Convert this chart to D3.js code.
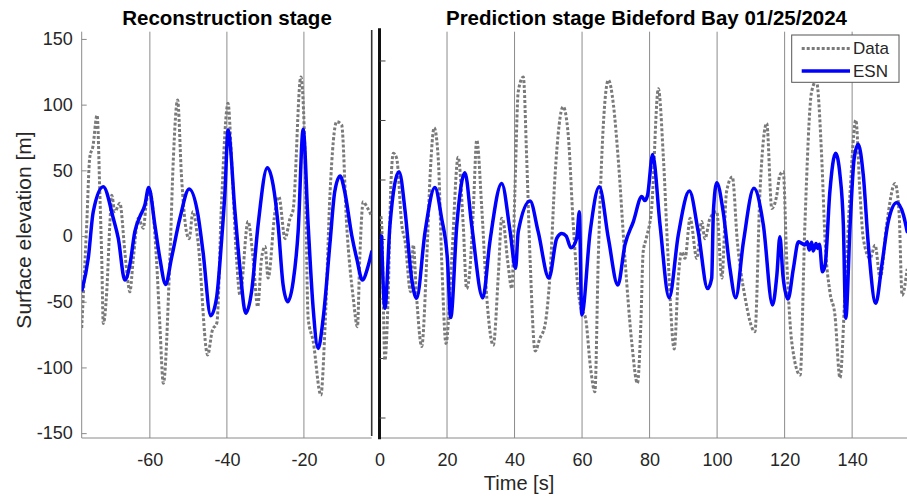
<!DOCTYPE html>
<html>
<head>
<meta charset="utf-8">
<script src="https://cdn.jsdelivr.net/npm/d3@7"></script>
<style>
  html, body { margin: 0; padding: 0; background: #fff; }
  svg { display: block; font-family: "Liberation Sans", Arial, sans-serif; }
</style>
</head>
<body>
<svg id="chart" width="907" height="497"></svg>
<script>
// Reconstruction stage: measured surface elevation [t (s), eta (m)]
const reconData = [
  [-77.7,-70],[-76.4,8.4],[-75.6,60],[-74.8,68],[-73.7,92],[-73.0,33.7],[-72.5,-17],[-72.1,-66.5],
  [-71.2,-42.4],[-70.4,8.4],[-69.9,31],[-69.1,18.5],[-67.8,25],[-66.5,-12],[-65.6,-37],[-65.2,-42.4],
  [-64.3,-17],[-63.0,13.5],[-61.7,6],[-60.9,26],[-60.0,33.7],[-58.3,-17],[-57.4,-68],[-56.5,-112],
  [-54.8,-17],[-53.9,59],[-52.8,103.5],[-51.8,46],[-50.5,3.3],[-49.8,-2],[-48.8,18.5],[-47.5,-4.3],
  [-45.0,-90.5],[-43.8,-72],[-42.6,-66],[-41.4,25],[-39.7,101],[-38.8,59],[-37.5,-17],[-36.6,-45],
  [-34.5,11],[-33.2,-17],[-32.0,-53.8],[-31.0,-17],[-30.1,-8],[-29.3,-32],[-27.5,18.5],[-26.5,30],
  [-24.9,-2],[-23.6,13.5],[-22.8,20],[-20.8,121],[-19.7,59],[-18.9,-62.6],[-17.6,-80],[-15.6,-121],
  [-14.5,-68],[-13.2,33.7],[-11.5,87],[-10.2,84.5],[-8.9,8.4],[-7.2,-47],[-6.1,-69],[-5.5,-17],
  [-4.6,26],[-3.6,22],[-2.4,15]
];

// Reconstruction stage: ESN output
const reconEsn = [
  [-77.6,-41],[-76.0,-17],[-74.7,18.5],[-72.1,37.5],[-69.5,13.5],[-68.2,-1.8],[-66.5,-33.5],[-65.2,-22],
  [-63.9,3.3],[-62.6,14.7],[-61.3,23.6],[-60.3,37],[-58.7,8.4],[-57.4,-17],[-55.9,-36.8],[-54.4,-17],
  [-52.2,13.5],[-49.8,35.8],[-47.5,16],[-46.2,-12],[-44.2,-60.6],[-42.7,-47.4],[-41.4,-4.3],[-40.5,33.7],
  [-39.7,80.7],[-37.9,18.5],[-36.6,-24.6],[-35.1,-58.8],[-33.6,-42.4],[-31.9,8.4],[-29.5,52],[-28.0,38.8],
  [-26.7,8.4],[-25.4,-37.3],[-24.2,-50],[-22.8,-34.8],[-21.5,3.3],[-20.2,81.2],[-18.9,8.4],[-17.6,-55],
  [-16.3,-85.5],[-15.0,-62.6],[-13.2,-4.3],[-12.0,33.7],[-10.6,45.7],[-9.4,33.7],[-7.6,0.8],[-6.3,-17],
  [-4.8,-33.5],[-3.5,-24.6],[-2.4,-12]
];

// Prediction stage: measured surface elevation
const predData = [
  [0.4,15],[0.65,8.4],[1.6,-94.4],[2.6,-42.4],[3.3,33.7],[4.1,63],[5.1,59],[6.6,8.4],[7.6,-4.3],
  [9.2,-42.4],[10.0,-6.8],[11.0,-47],[12.5,-84],[14.0,-17],[15.0,46.4],[16.2,82.4],[17.4,59],[18.4,-17],
  [19.7,-81.7],[21.4,-17],[23.3,60],[24.8,8.4],[25.8,-40],[26.8,-25],[27.8,21],[28.8,73],[30.3,21],
  [31.8,-47.4],[33.7,-83],[35.2,-29.7],[36.2,13.5],[36.6,12],[38.0,-20],[39.2,-40],[40.1,33.7],[41.1,110],
  [42.6,121],[43.6,59],[44.6,-17],[46.1,-87.5],[47.5,-78],[49.0,-68],[50.5,-29.7],[52.0,46.4],[54.4,98.4],
  [55.9,77],[57.4,8.4],[58.9,-42.4],[59.7,-55],[61.0,-62],[62.5,-100],[63.8,-118.5],[64.8,-17],[66.3,84.5],
  [67.8,118.7],[69.3,99.7],[70.7,59],[72.7,-17],[74.7,-80.4],[76.4,-112],[77.4,-68],[78.1,-12],[79.0,-2],
  [80.6,21],[82.6,112],[84.1,59],[85.5,-17],[87.3,-86],[88.5,-32],[89.5,-12],[90.5,-17],[92.0,13.5],
  [94.0,-17],[95.4,11],[96.4,-2],[97.9,13.5],[99.9,18.5],[101.4,-32],[102.8,33.7],[104.5,45],[106.0,-4.3],
  [108.3,-47],[111.2,-72.8],[112.7,33.7],[114.7,85.8],[116.2,21],[117.6,30],[118.6,46.4],[119.6,49],
  [120.6,-17],[122.1,-80.4],[124.6,-105.8],[126.0,8.4],[128.0,110],[129.4,118],[131.0,59],[132.0,-4.3],
  [133.4,-42.4],[134.9,-60],[136.4,-108],[137.9,-42.4],[139.4,33.7],[141.1,88.3],[142.3,33.7],[143.3,-1.8],
  [145.3,-17],[146.8,-7],[148.3,-32],[150.2,8.4],[152.7,40],[153.9,18],[154.8,-45],[156.3,-25]
];

// Prediction stage: ESN forecast
const predEsn = [
  [0.6,0],[1.6,-55],[3.1,8.4],[5.8,49],[7.6,18.5],[9.5,-32],[11.0,-47.4],[13.5,3.3],[16.4,37],[18.4,13.5],
  [20.1,-17],[21.1,-62],[22.9,8.4],[25.3,48.2],[27.3,8.4],[30.6,-47],[32.7,-4.3],[36.2,40],[38.7,3.3],
  [40.3,-24.6],[41.1,3.3],[44.6,26.6],[47.0,3.3],[50.2,-32],[52.5,-1.8],[54.0,2],[55.3,0],[56.7,-9],
  [58.4,-1.8],[59.2,18.5],[59.9,-60],[62.4,3.3],[65.1,37.5],[67.8,-1.8],[70.6,-37.3],[72.7,-6.8],[75.2,11],
  [77.7,30],[78.6,27],[79.4,31],[80.9,62],[83.1,8.4],[85.8,-47],[88.5,0.8],[91.8,34.2],[94.4,3.3],
  [97.2,-40],[98.4,-32],[98.9,18.5],[99.9,40.6],[101.8,18.5],[103.8,-24.6],[105.5,-47],[107.8,-4.3],
  [110.9,36.3],[113.7,8.4],[116.4,-52.5],[117.7,-29.7],[118.6,-0.5],[119.5,-30],[121.0,-48],[122.6,-24.6],
  [124.1,-4.3],[125.1,-5.6],[126.0,-6.8],[126.7,-4.3],[127.3,-10.7],[128.0,-4.8],[128.5,-11.4],[129.3,-5.6],
  [129.8,-9.4],[130.3,-6.3],[131.2,-27.2],[132.0,-22],[133.4,33.7],[135.1,63],[136.4,46.4],[137.4,8.4],
  [138.1,-62.6],[139.4,8.4],[140.6,59],[141.8,69.8],[143.3,46.4],[144.8,-6.8],[147.0,-51.2],[148.8,-22],
  [150.7,11],[153.2,25.4],[155.2,16],[156.3,3.3]
];

// Axis ticks and labels
const yTicks = [-150, -100, -50, 0, 50, 100, 150];
const reconTicks = [-60, -40, -20];
const predTicks = [0, 20, 40, 60, 80, 100, 120, 140];
const titles = ["Reconstruction stage", "Prediction stage Bideford Bay 01/25/2024"];
const seriesNames = ["Data", "ESN"];

const svg = d3.select("#chart");
const plotTop = 31.7, plotBottom = 438;

const xL = d3.scaleLinear().domain([-77.7, -2.4]).range([81.7, 371.7]);
const xR = d3.scaleLinear().domain([0, 156.25]).range([379.5, 907]);
const y = d3.scaleLinear().domain([-153.7, 155.5]).range([plotBottom, plotTop]);
// tick spacing used on the prediction panel's own left axis
const yR = d3.scaleLinear().domain([-166.8, 174.6]).range([plotBottom, plotTop]);

const gridColor = "#8c8c8c";
const axisColor = "#8a8a8a";
const textColor = "#262626";
const dataColor = "#7a7a7a";
const esnColor = "#0000ff";
const fontFamily = "Liberation Sans, Arial, sans-serif";
// plain hyphen for negative tick labels
const tickFmt = d => (d < 0 ? "-" : "") + Math.abs(d);

const defs = svg.append("defs");
defs.append("clipPath").attr("id", "clipL").append("rect")
  .attr("x", xL.range()[0]).attr("y", plotTop).attr("width", xL.range()[1] - xL.range()[0]).attr("height", plotBottom - plotTop);
defs.append("clipPath").attr("id", "clipR").append("rect")
  .attr("x", xR.range()[0]).attr("y", plotTop).attr("width", xR.range()[1] - xR.range()[0]).attr("height", plotBottom - plotTop);

// vertical grid lines
svg.append("g").selectAll("line").data(reconTicks).join("line")
  .attr("x1", d => xL(d)).attr("x2", d => xL(d)).attr("y1", plotTop).attr("y2", plotBottom)
  .attr("stroke", gridColor).attr("stroke-width", 1);
svg.append("g").selectAll("line").data(predTicks.filter(d => d !== 0)).join("line")
  .attr("x1", d => xR(d)).attr("x2", d => xR(d)).attr("y1", plotTop).attr("y2", plotBottom)
  .attr("stroke", gridColor).attr("stroke-width", 1);

// bottom axis lines
[xL, xR].forEach(sc => {
  svg.append("line").attr("x1", sc.range()[0]).attr("x2", sc.range()[1])
    .attr("y1", plotBottom).attr("y2", plotBottom).attr("stroke", axisColor).attr("stroke-width", 1);
});

// left y axis
const yAxis = d3.axisLeft(y).tickValues(yTicks).tickFormat(tickFmt)
  .tickSizeInner(-5).tickSizeOuter(0).tickPadding(9);
const gy = svg.append("g").attr("transform", `translate(${xL.range()[0]},0)`).call(yAxis);
gy.select(".domain").attr("stroke", axisColor).attr("d", `M0,${plotTop}V${plotBottom}`);
gy.selectAll(".tick line").attr("stroke", axisColor);
gy.selectAll("text").attr("font-size", 18).attr("fill", textColor).attr("font-family", fontFamily);

// x tick labels
const xAxisL = d3.axisBottom(xL).tickValues(reconTicks).tickSize(0).tickPadding(15).tickFormat(tickFmt);
const gxL = svg.append("g").attr("transform", `translate(0,${plotBottom})`).call(xAxisL);
const xAxisR = d3.axisBottom(xR).tickValues(predTicks).tickSize(0).tickPadding(15).tickFormat(tickFmt);
const gxR = svg.append("g").attr("transform", `translate(0,${plotBottom})`).call(xAxisR);
[gxL, gxR].forEach(g => {
  g.select(".domain").remove();
  g.selectAll("text").attr("font-size", 18).attr("fill", textColor).attr("font-family", fontFamily);
});

// separators between the two stages
svg.append("line").attr("x1", xL.range()[1]).attr("x2", xL.range()[1]).attr("y1", 30).attr("y2", 436)
  .attr("stroke", "#333").attr("stroke-width", 1.6);
svg.append("line").attr("x1", xR(0)).attr("x2", xR(0)).attr("y1", 28.3).attr("y2", 439.3)
  .attr("stroke", "#111").attr("stroke-width", 3);
svg.append("g").selectAll("line").data(yTicks).join("line")
  .attr("x1", xR(0)).attr("x2", xR(0) + 6).attr("y1", d => yR(d)).attr("y2", d => yR(d))
  .attr("stroke", "#444").attr("stroke-width", 1);

// series
const lineL = d3.line().x(d => xL(d[0])).y(d => y(d[1])).curve(d3.curveMonotoneX);
const lineR = d3.line().x(d => xR(d[0])).y(d => y(d[1])).curve(d3.curveMonotoneX);

function dataStyle(sel) {
  return sel.attr("fill", "none").attr("stroke", dataColor).attr("stroke-width", 3)
    .attr("stroke-dasharray", "3,2").attr("stroke-linecap", "butt");
}
function esnStyle(sel) {
  return sel.attr("fill", "none").attr("stroke", esnColor).attr("stroke-width", 3.5)
    .attr("stroke-linejoin", "round").attr("stroke-linecap", "round");
}

const gL = svg.append("g").attr("clip-path", "url(#clipL)");
gL.append("path").datum(reconData).attr("d", lineL).call(dataStyle);
gL.append("path").datum(reconEsn).attr("d", lineL).call(esnStyle);

const gR = svg.append("g").attr("clip-path", "url(#clipR)");
gR.append("path").datum(predData).attr("d", lineR).call(dataStyle);
gR.append("path").datum(predEsn).attr("d", lineR).call(esnStyle);

// titles
svg.append("text").attr("x", 227).attr("y", 25).attr("text-anchor", "middle")
  .attr("font-size", 20.5).attr("font-weight", "bold").attr("fill", "#000").text(titles[0]);
svg.append("text").attr("x", 646.5).attr("y", 25).attr("text-anchor", "middle")
  .attr("font-size", 20.5).attr("font-weight", "bold").attr("fill", "#000").text(titles[1]);

// axis labels
svg.append("text").attr("transform", "translate(31,230) rotate(-90)").attr("text-anchor", "middle")
  .attr("font-size", 21).attr("fill", textColor).text("Surface elevation [m]");
svg.append("text").attr("x", 519).attr("y", 490).attr("text-anchor", "middle")
  .attr("font-size", 20).attr("fill", textColor).text("Time [s]");

// legend
const lg = svg.append("g");
lg.append("rect").attr("x", 791.7).attr("y", 35).attr("width", 107.3).attr("height", 47.3)
  .attr("fill", "#fff").attr("stroke", "#555").attr("stroke-width", 1);
lg.append("line").attr("x1", 801.7).attr("x2", 850).attr("y1", 48.5).attr("y2", 48.5).call(dataStyle);
lg.append("line").attr("x1", 801.7).attr("x2", 850).attr("y1", 71).attr("y2", 71).call(esnStyle).attr("stroke-linecap", "butt");
lg.append("text").attr("x", 853).attr("y", 54).attr("font-size", 17).attr("fill", textColor).text(seriesNames[0]);
lg.append("text").attr("x", 853).attr("y", 77).attr("font-size", 17).attr("fill", textColor).text(seriesNames[1]);
</script>
</body>
</html>
